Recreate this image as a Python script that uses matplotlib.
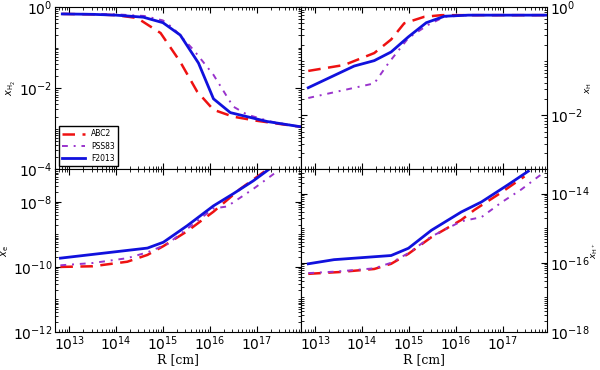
import matplotlib
matplotlib.use("Agg")
import matplotlib.pyplot as plt
import matplotlib.ticker as mticker
import numpy as np

# log10(R [cm]) and log10(abundance)
# top-left: x_H2
h2_abc_r = [12.85, 13.5, 14.0, 14.45, 14.95, 15.37, 15.73, 16.08, 16.5, 17.0, 17.5, 17.95]
h2_abc_y = [-0.17, -0.18, -0.2, -0.27, -0.64, -1.35, -2.08, -2.53, -2.7, -2.8, -2.88, -2.95]
h2_pss_r = [12.85, 13.5, 14.0, 14.6, 15.0, 15.22, 15.65, 16.08, 16.5, 16.8, 17.3, 17.95]
h2_pss_y = [-0.17, -0.17, -0.18, -0.22, -0.33, -0.52, -1.05, -1.67, -2.45, -2.65, -2.82, -2.95]
h2_f13_r = [12.85, 13.5, 14.0, 14.58, 15.0, 15.37, 15.76, 16.08, 16.44, 17.23, 17.95]
h2_f13_y = [-0.17, -0.18, -0.2, -0.25, -0.385, -0.69, -1.38, -2.26, -2.6, -2.82, -2.95]

# top-right: x_H
h_abc_r = [12.85, 13.62, 14.26, 14.62, 14.9, 15.33, 15.7, 16.5, 17.95]
h_abc_y = [-1.18, -1.07, -0.85, -0.6, -0.3, -0.18, -0.15, -0.15, -0.15]
h_pss_r = [12.85, 14.26, 14.56, 14.99, 15.41, 15.76, 16.3, 17.95]
h_pss_y = [-1.68, -1.41, -1.04, -0.57, -0.33, -0.18, -0.15, -0.15]
h_f13_r = [12.85, 13.83, 14.26, 14.62, 14.99, 15.37, 15.76, 16.27, 17.95]
h_f13_y = [-1.49, -1.09, -0.99, -0.83, -0.55, -0.29, -0.17, -0.15, -0.15]

# bottom-left: x_e
e_abc_r = [12.81, 13.5, 14.24, 14.67, 15.01, 15.52, 16.08, 16.65, 17.23]
e_abc_y = [-10.0, -9.98, -9.84, -9.63, -9.36, -8.9, -8.3, -7.6, -7.0]
e_pss_r = [12.81, 13.5, 14.24, 14.67, 15.09, 15.5, 16.08, 16.37, 16.93, 17.44]
e_pss_y = [-9.95, -9.88, -9.73, -9.55, -9.3, -8.85, -8.2, -8.14, -7.6, -7.06]
e_f13_r = [12.81, 14.67, 15.01, 15.52, 16.08, 16.5, 16.93, 17.29]
e_f13_y = [-9.73, -9.42, -9.24, -8.73, -8.12, -7.75, -7.35, -6.97]

# bottom-right: x_H+
hp_abc_r = [12.85, 13.5, 14.26, 14.62, 14.99, 15.48, 16.12, 16.4, 16.97, 17.47]
hp_abc_y = [-16.32, -16.27, -16.18, -16.03, -15.74, -15.26, -14.76, -14.47, -13.97, -13.5]
hp_pss_r = [12.85, 13.5, 14.26, 14.62, 14.99, 15.48, 16.12, 16.55, 16.97, 17.4, 17.83]
hp_pss_y = [-16.3, -16.25, -16.16, -16.0, -15.72, -15.24, -14.8, -14.68, -14.26, -13.88, -13.44]
hp_f13_r = [12.85, 13.4, 14.62, 14.99, 15.48, 16.12, 16.55, 17.12, 17.55]
hp_f13_y = [-16.03, -15.91, -15.79, -15.58, -15.06, -14.53, -14.24, -13.74, -13.35]

labels = ["ABC2", "PSS83", "F2013"]
colors = ["#ee1111", "#9933cc", "#1111dd"]
styles = [(0, (5, 3)), (0, (3, 3, 1, 3)), "-"]
widths = [1.8, 1.4, 2.0]

panels = [
    (h2_abc_r, h2_abc_y, h2_pss_r, h2_pss_y, h2_f13_r, h2_f13_y),
    (h_abc_r, h_abc_y, h_pss_r, h_pss_y, h_f13_r, h_f13_y),
    (e_abc_r, e_abc_y, e_pss_r, e_pss_y, e_f13_r, e_f13_y),
    (hp_abc_r, hp_abc_y, hp_pss_r, hp_pss_y, hp_f13_r, hp_f13_y),
]
ylims = [(1e-4, 1.0), (1e-3, 1.0), (1e-12, 1e-7), (1e-18, 10**-13.3)]
yticks = [[1e-4, 1e-2, 1e0], [1e-2, 1e0], [1e-12, 1e-10, 1e-8], [1e-18, 1e-16, 1e-14]]
ylabels = [r"$x_{\rm H_2}$", r"$x_{\rm H}$", r"$x_{\rm e}$", r"$x_{\rm H^+}$"]

fig, axes = plt.subplots(2, 2, figsize=(6, 3.7), dpi=100)
fig.subplots_adjust(left=0.092, right=0.912, top=0.981, bottom=0.103,
                    wspace=0, hspace=0)

for i, ax in enumerate(axes.flat):
    d = panels[i]
    for k in range(3):
        r = 10 ** np.array(d[2 * k])
        y = 10 ** np.array(d[2 * k + 1])
        ax.plot(r, y, color=colors[k], ls=styles[k], lw=widths[k], label=labels[k])
    ax.set_xscale("log")
    ax.set_yscale("log")
    ax.set_xlim(5e12, 9e17)
    ax.set_ylim(*ylims[i])
    ax.set_yticks(yticks[i])
    ax.yaxis.set_major_formatter(mticker.LogFormatterMathtext())
    ax.yaxis.set_minor_locator(mticker.LogLocator(subs="all", numticks=30))
    ax.yaxis.set_minor_formatter(mticker.NullFormatter())
    ax.set_xticks([1e13, 1e14, 1e15, 1e16, 1e17])
    ax.xaxis.set_minor_locator(mticker.LogLocator(subs="all", numticks=30))
    ax.xaxis.set_minor_formatter(mticker.NullFormatter())
    ax.tick_params(which="both", direction="in", top=True, right=True,
                   labelsize=10, pad=2)
    ax.tick_params(which="major", length=4)
    ax.tick_params(which="minor", length=2)
    for s in ax.spines.values():
        s.set_linewidth(0.8)
    ax.set_ylabel(ylabels[i], fontsize=7, labelpad=1)
    if i < 2:
        ax.tick_params(labelbottom=False)
    else:
        ax.set_xlabel("R [cm]", family="DejaVu Serif", fontsize=9, labelpad=0)
    if i % 2 == 1:
        ax.yaxis.tick_right()
        ax.yaxis.set_label_position("right")
        ax.tick_params(which="both", left=True, direction="in")
        ax.set_ylabel(ylabels[i], fontsize=6.5, labelpad=0)

axes[0, 0].legend(loc="lower left", fontsize=5.5, handlelength=3,
                  borderpad=0.4, labelspacing=0.4, fancybox=False,
                  framealpha=1, edgecolor="black")

fig.savefig("out.png", dpi=100)
